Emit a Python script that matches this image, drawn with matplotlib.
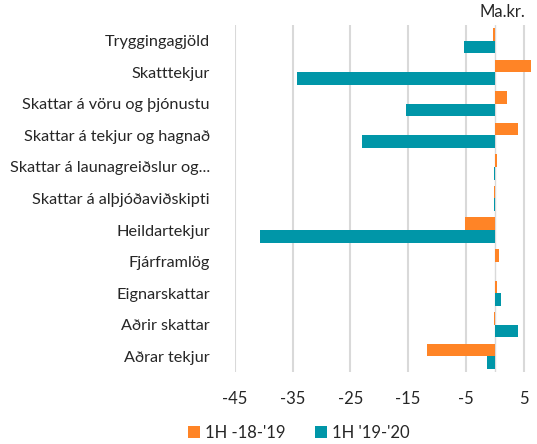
import numpy as np
import matplotlib.pyplot as plt

# data
categories = [
    "Tryggingagjöld",
    "Skatttekjur",
    "Skattar á vöru og þjónustu",
    "Skattar á tekjur og hagnað",
    "Skattar á launagreiðslur og...",
    "Skattar á alþjóðaviðskipti",
    "Heildartekjur",
    "Fjárframlög",
    "Eignarskattar",
    "Aðrir skattar",
    "Aðrar tekjur",
]
series_names = ["1H -18-'19", "1H '19-'20"]
vals_1819 = [-0.3, 6.3, 2.1, 4.1, 0.4, -0.1, -5.1, 0.8, 0.4, -0.2, -11.8]
vals_1920 = [-5.3, -34.2, -15.3, -23.0, -0.1, -0.2, -40.6, 0.1, 1.1, 4.0, -1.3]
xticks = [-45, -35, -25, -15, -5, 5]

ORANGE = "#FF8426"
TEAL = "#0096A8"
GRID = "#D9D9D9"

plt.rcParams["font.family"] = ["Lato", "DejaVu Sans"]

fig = plt.figure(figsize=(5.37, 4.44), dpi=100)
ax = fig.add_axes([235 / 537, 1 - 372 / 444, (532.2 - 235) / 537, (372 - 25) / 444])

y = np.arange(len(categories))
h = 0.4
ax.barh(y - h / 2, vals_1819, height=h, color=ORANGE, label=series_names[0], zorder=3)
ax.barh(y + h / 2, vals_1920, height=h, color=TEAL, label=series_names[1], zorder=3)

ax.set_xlim(-45, 6.5)
ax.set_ylim(len(categories) - 0.5, -0.5)
ax.set_xticks(xticks)
ax.set_xticklabels([str(t) for t in xticks], fontsize=12, color="#262626")
ax.set_yticks(y)
ax.set_yticklabels(categories, fontsize=11.7, color="#262626")
ax.tick_params(axis="both", length=0)
ax.tick_params(axis="y", pad=18)
ax.tick_params(axis="x", pad=14)
ax.grid(axis="x", color=GRID, linewidth=1.5, zorder=0)
ax.axvline(0, color=GRID, linewidth=1.0, zorder=2)
for s in ax.spines.values():
    s.set_visible(False)

fig.text(525 / 537, 1 - 12 / 444, "Ma.kr.", ha="right", va="center", fontsize=12, color="#262626")

fig.legend(loc="center", bbox_to_anchor=(299 / 537, 1 - 433 / 444), ncol=2, frameon=False,
           fontsize=12, handlelength=0.7, handleheight=0.7, handletextpad=0.3,
           columnspacing=1.8, labelcolor="#262626")

fig.savefig("out.png", dpi=100)
